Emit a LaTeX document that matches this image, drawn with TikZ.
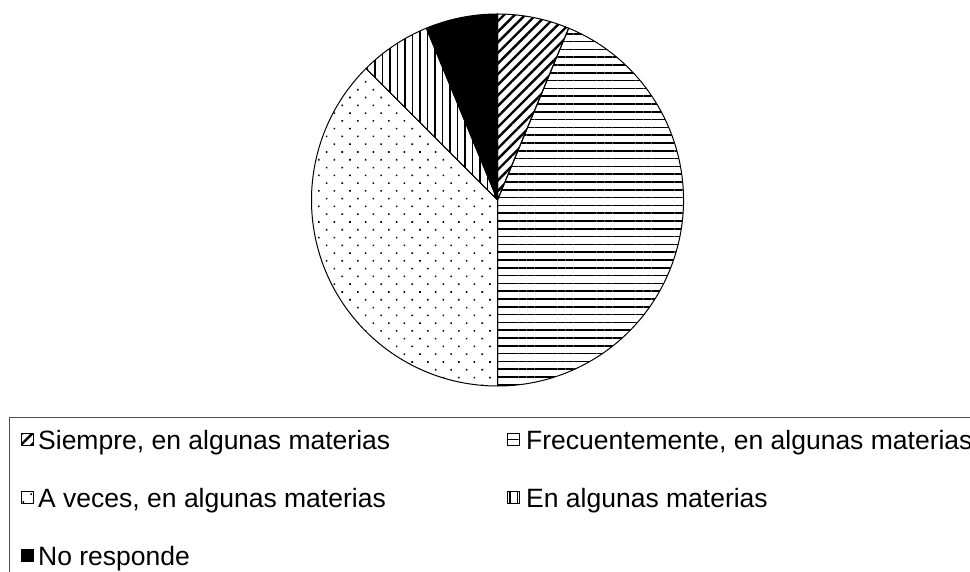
\documentclass[tikz,border=0pt]{standalone}
\usepackage{fontspec}
\setmainfont{Liberation Sans}
\usetikzlibrary{patterns.meta}

\begin{document}
\begin{tikzpicture}[x=1pt, y=1pt,
    slice/.style={draw=black, line width=1pt, line join=round},
    keybox/.style={draw=black, line width=1pt, minimum size=12pt, inner sep=0pt, anchor=south west},
    entry/.style={anchor=base west, inner sep=0pt, font=\fontsize{26.5}{30}\selectfont},
    siempre/.style={pattern={Lines[angle=45, distance=7.5pt, line width=2.4pt]}},
    frecuente/.style={pattern={Lines[angle=0, distance=7.8pt, line width=1.5pt]}},
    aveces/.style={pattern={Dots[angle=45, distance=11pt, radius=1.1pt]}},
    algunas/.style={pattern={Lines[angle=90, distance=7.5pt, line width=1.8pt]}},
    noresp/.style={fill=black}]
            \def \xc   {497.5}
            \def \yc   {372}
            \def \rad  {186}

            \def \xka  {21}
            \def \xta  {38}
            \def \xkb  {507}
            \def \xtb  {526}

            \def \yra  {122.5}
            \def \yrb  {64.5}
            \def \yrc  {6.5}

            \useasboundingbox (0,0) rectangle (970,572);
            \clip (0,0) rectangle (970,572);

% pie
            \coordinate (centre) at (\xc, \yc);
            \draw [slice, siempre]   (centre) -- ++(90:\rad)    arc (90:67.5:\rad)   -- cycle;
            \draw [slice, frecuente] (centre) -- ++(67.5:\rad)  arc (67.5:-90:\rad)  -- cycle;
            \draw [slice, aveces]    (centre) -- ++(-90:\rad)   arc (-90:-225:\rad)  -- cycle;
            \draw [slice, algunas]   (centre) -- ++(135:\rad)   arc (135:112.5:\rad) -- cycle;
            \draw [slice, noresp]    (centre) -- ++(112.5:\rad) arc (112.5:90:\rad)  -- cycle;

% legend box
            \draw [draw=black!70, line width=0.8pt] (9, -10) rectangle (990, 154.5);

% legend keys
            \node [keybox, siempre]   (ksiempre)   at (\xka, \yra + 3) {};
            \node [keybox, frecuente] (kfrecuente) at (\xkb, \yra + 3) {};
            \node [keybox, aveces]    (kaveces)    at (\xka, \yrb + 3) {};
            \node [keybox, algunas]   (kalgunas)   at (\xkb, \yrb + 3) {};
            \node [keybox, noresp]    (knoresp)    at (\xka, \yrc + 3) {};

% legend texts
            \node [entry] (tsiempre)   at (\xta, \yra) {Siempre, en algunas materias};
            \node [entry] (tfrecuente) at (\xtb, \yra) {Frecuentemente, en algunas materias};
            \node [entry] (taveces)    at (\xta, \yrb) {A veces, en algunas materias};
            \node [entry] (talgunas)   at (\xtb, \yrb) {En algunas materias};
            \node [entry] (tnoresp)    at (\xta, \yrc) {No responde};

\end{tikzpicture}
\end{document}
